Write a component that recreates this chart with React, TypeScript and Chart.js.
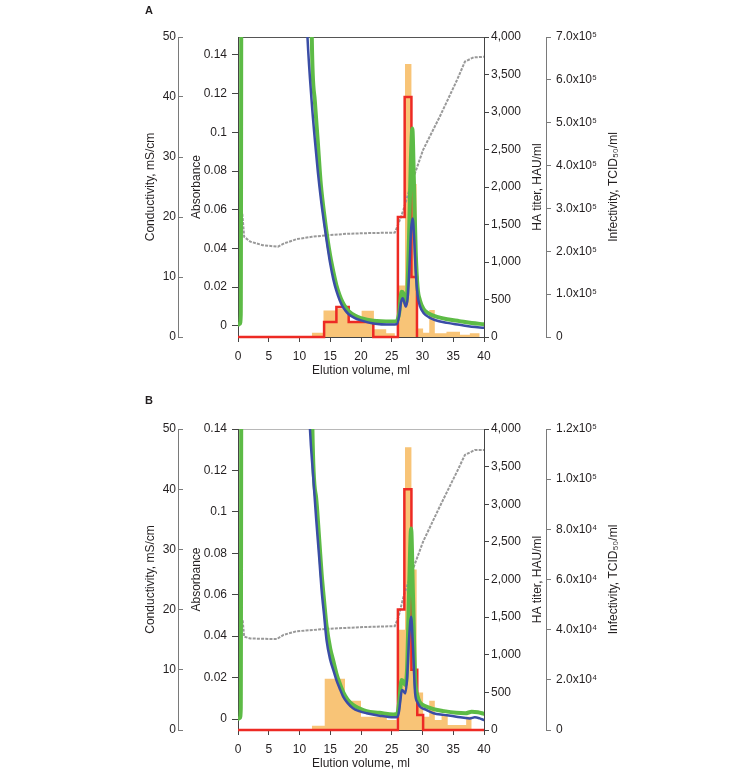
import React, { useEffect, useRef } from "react";
import { Chart, registerables } from "chart.js";

Chart.register(...registerables);

const FONT = '"Liberation Sans", Arial, Helvetica, sans-serif';
const TEXT = "#231f20";
const AXIS_DARK = "#444444";
const AXIS_LIGHT = "#7a7a7a";

// ---------- tick values ----------
const volumeTicks = [0, 5, 10, 15, 20, 25, 30, 35, 40];
const conductivityTicks = [0, 10, 20, 30, 40, 50];
const absorbanceTicks = [0, 0.02, 0.04, 0.06, 0.08, 0.1, 0.12, 0.14];
const haTicks = [0, 500, 1000, 1500, 2000, 2500, 3000, 3500, 4000];
const infectivityTicksA = [0, 1e5, 2e5, 3e5, 4e5, 5e5, 6e5, 7e5];
const infectivityTicksB = [0, 2e4, 4e4, 6e4, 8e4, 1e5, 1.2e5];

const absorbanceRangeA = [-0.0058, 0.1493];
const absorbanceRangeB = [-0.0053, 0.14];

// ---------- Panel A ----------
const condVolA = [0.5, 0.7, 1.0, 2.0, 4.0, 6.5, 7.5, 9.5, 12, 15, 17.7, 20.4, 25.5, 26.1, 26.9, 28, 30.1, 32.8, 35.6, 36.9, 38.3, 40];
const condA = [20.0, 20.6, 16.7, 15.9, 15.3, 15.05, 15.6, 16.3, 16.7, 17.0, 17.2, 17.3, 17.4, 18.9, 21.2, 25.0, 31.2, 36.7, 42.8, 45.9, 46.6, 46.7];

const haVolA = [0, 14, 16, 18, 22, 26, 27.1, 28.2, 29.1];
const haA = [0, 200, 400, 200, 0, 1600, 3200, 800, 0];

const infVolA = [12, 13.9, 16, 18, 20.1, 22.1, 24.1, 25.5, 26.1, 27.15, 28.2, 29.05, 30.1, 31.1, 32.0, 33.9, 36.1, 37.7, 39.3];
const infA = [1.0e4, 6.2e4, 6.6e4, 3.4e4, 6.1e4, 1.8e4, 9e3, 0, 1.2e5, 6.37e5, 3.57e5, 2.0e4, 1.0e4, 6.3e4, 9e3, 1.2e4, 5e3, 9e3, 0];

const greenVolA = [0, 0.3, 0.45, 0.6, 11.6, 12.0, 12.5, 13.0, 13.3, 13.5, 14.0, 14.5, 15.0, 15.5, 16.0, 16.5, 17.0, 17.5, 18.0, 19.0, 20.0, 22.0, 25.0, 25.8, 26.2, 26.6, 26.85, 27.2, 27.5, 27.8, 28.1, 28.35, 28.6, 28.9, 29.2, 29.6, 30.2, 31.0, 32.0, 34.0, 36.0, 38.0, 40.0];
const greenA = [0.0005, 0.001, 0.006, 0.3, 0.3, 0.149, 0.116, 0.094, 0.080, 0.072, 0.058, 0.046, 0.036, 0.028, 0.021, 0.016, 0.0122, 0.0095, 0.0076, 0.0053, 0.0040, 0.0026, 0.0022, 0.0024, 0.0065, 0.0176, 0.017, 0.0116, 0.016, 0.045, 0.085, 0.102, 0.075, 0.038, 0.02, 0.013, 0.0085, 0.0064, 0.005, 0.0034, 0.0024, 0.0014, 0.0008];

const blueVolA = [0, 10.8, 11.3, 12.0, 12.5, 13.0, 13.5, 14.0, 14.5, 15.0, 15.5, 16.0, 16.5, 17.0, 17.5, 18.0, 19.0, 20.0, 22.0, 25.0, 25.8, 26.2, 26.5, 26.8, 27.05, 27.3, 27.6, 27.9, 28.15, 28.4, 28.65, 28.9, 29.2, 29.6, 30.2, 31.0, 32.0, 34.0, 36.0, 38.0, 40.0];
const blueA = [0.3, 0.19, 0.149, 0.115, 0.096, 0.079, 0.065, 0.053, 0.042, 0.032, 0.024, 0.018, 0.0135, 0.010, 0.0077, 0.006, 0.004, 0.0028, 0.0012, 0.0006, 0.0008, 0.005, 0.012, 0.0142, 0.012, 0.0098, 0.015, 0.032, 0.05, 0.0555, 0.045, 0.028, 0.016, 0.010, 0.0065, 0.0045, 0.003, 0.0015, 0.0005, -0.0005, -0.001];

// ---------- Panel B ----------
const condVolB = [0.6, 0.75, 1.0, 2.0, 6.3, 7.4, 9.5, 14.4, 20.4, 25.5, 26.1, 26.9, 28, 30.1, 32.8, 35.6, 36.9, 38.5, 40];
const condB = [17.0, 18.3, 15.5, 15.2, 15.1, 15.8, 16.4, 16.8, 17.1, 17.25, 18.8, 22.1, 25.5, 31.3, 37.1, 42.9, 45.7, 46.5, 46.5];

const haVolB = [0, 26, 27.05, 28.2, 29.15, 30.1, 40];
const haB = [0, 1600, 3200, 800, 200, 0, 0];

const infVolB = [12, 14.1, 17.4, 20.0, 24.2, 25.8, 26.1, 27.15, 28.2, 29.05, 30.1, 31.1, 32.0, 33.1, 34.1, 37.1, 38.0];
const infB = [1.7e3, 2.04e4, 1.17e4, 5.3e3, 4e3, 0, 4.0e4, 1.127e5, 6.4e4, 1.5e4, 5.3e3, 1.17e4, 4e3, 6e3, 2e3, 5.3e3, 0];

const greenVolB = [0, 0.3, 0.45, 0.6, 11.8, 12.1, 12.7, 13.2, 13.6, 14.0, 14.4, 15.0, 15.5, 16.0, 16.5, 17.1, 17.8, 18.7, 19.7, 20.9, 23.0, 25.3, 25.9, 26.2, 26.6, 26.9, 27.2, 27.5, 27.8, 28.15, 28.45, 28.8, 29.2, 29.6, 30.5, 31.8, 33.5, 35.5, 37.0, 38.0, 39.0, 40];
const greenB = [0, 0.0005, 0.005, 0.3, 0.3, 0.14, 0.107, 0.087, 0.070, 0.057, 0.045, 0.034, 0.028, 0.022, 0.0175, 0.013, 0.0095, 0.0068, 0.0052, 0.0038, 0.003, 0.0022, 0.0026, 0.008, 0.0188, 0.018, 0.0164, 0.025, 0.06, 0.092, 0.06, 0.02, 0.011, 0.008, 0.0062, 0.0048, 0.0038, 0.003, 0.0028, 0.0035, 0.0033, 0.0025];

const blueVolB = [0, 11.2, 11.7, 12.2, 12.7, 13.2, 13.6, 14.0, 14.4, 15.0, 15.5, 16.0, 16.5, 17.1, 17.8, 18.7, 19.7, 20.9, 23.0, 25.3, 25.9, 26.2, 26.4, 26.65, 26.9, 27.2, 27.5, 27.8, 28.15, 28.45, 28.8, 29.2, 29.6, 30.5, 31.8, 33.5, 35.5, 37.7, 38.5, 39.3, 40];
const blueB = [0.3, 0.18, 0.14, 0.118, 0.097, 0.078, 0.062, 0.050, 0.038, 0.0285, 0.0236, 0.0188, 0.015, 0.0108, 0.0078, 0.0052, 0.0038, 0.0028, 0.0016, 0.0008, 0.001, 0.004, 0.009, 0.014, 0.0135, 0.0124, 0.02, 0.038, 0.0494, 0.035, 0.0124, 0.008, 0.0059, 0.0045, 0.0028, 0.002, 0.0011, 0.0003, 0.0008, 0.0003, -0.0005];

// ---------- helpers ----------
const SUP: Record<string, string> = { "0": "⁰", "1": "¹", "2": "²", "3": "³", "4": "⁴", "5": "⁵", "6": "⁶", "7": "⁷", "8": "⁸", "9": "⁹" };
function sci(v: number): string {
  if (v === 0) return "0";
  const e = Math.floor(Math.log10(v) + 1e-9);
  const m = v / Math.pow(10, e);
  return m.toFixed(1) + "x10" + String(e).split("").map((c) => SUP[c] || c).join("");
}
const pts = (xs: number[], ys: number[]) => xs.map((x, i) => ({ x, y: ys[i] }));
const setTicks = (values: number[]) => (scale: any) => {
  scale.ticks = values.map((v) => ({ value: v }));
};
const fixWidth = (w: number) => (scale: any) => {
  scale.width = w;
};
const fixHeight = (h: number) => (scale: any) => {
  scale.height = h;
};

function rightTitles(items: { scale: string; dx: number; text: string }[]) {
  return {
    id: "rightTitles",
    afterDraw(chart: any) {
      const ctx = chart.ctx;
      const area = chart.chartArea;
      for (const it of items) {
        const s = chart.scales[it.scale];
        if (!s) continue;
        ctx.save();
        ctx.translate(s.left + it.dx, (area.top + area.bottom) / 2);
        ctx.rotate(-Math.PI / 2);
        ctx.font = `12px ${FONT}`;
        ctx.fillStyle = TEXT;
        ctx.textAlign = "center";
        ctx.textBaseline = "middle";
        ctx.fillText(it.text, 0, 0);
        ctx.restore();
      }
    },
  };
}

type Panel = {
  condVol: number[]; cond: number[];
  haVol: number[]; ha: number[];
  infVol: number[]; inf: number[];
  greenVol: number[]; green: number[];
  blueVol: number[]; blue: number[];
  absRange: number[];
  infTicks: number[];
  topBorder: string;
  bottomPad: number;
};

const panelA: Panel = {
  condVol: condVolA, cond: condA, haVol: haVolA, ha: haA, infVol: infVolA, inf: infA,
  greenVol: greenVolA, green: greenA, blueVol: blueVolA, blue: blueA,
  absRange: absorbanceRangeA, infTicks: infectivityTicksA, topBorder: "#555555", bottomPad: 5,
};
const panelB: Panel = {
  condVol: condVolB, cond: condB, haVol: haVolB, ha: haB, infVol: infVolB, inf: infB,
  greenVol: greenVolB, green: greenB, blueVol: blueVolB, blue: blueB,
  absRange: absorbanceRangeB, infTicks: infectivityTicksB, topBorder: "#b8b8b8", bottomPad: 4,
};

function buildConfig(p: Panel): any {
  const font = { family: FONT, size: 12 };
  return {
    type: "line",
    data: {
      datasets: [
        {
          label: "Infectivity",
          data: pts(p.infVol, p.inf),
          yAxisID: "inf",
          stepped: true,
          fill: "origin",
          backgroundColor: "#F8C477",
          borderColor: "rgba(0,0,0,0)",
          borderWidth: 0,
          pointRadius: 0,
          order: 50,
        },
        {
          label: "Conductivity",
          data: pts(p.condVol, p.cond),
          yAxisID: "cond",
          borderColor: "#999999",
          borderWidth: 2,
          borderDash: [3, 1.2],
          pointRadius: 0,
          fill: false,
          order: 40,
        },
        {
          label: "HA titer",
          data: pts(p.haVol, p.ha),
          yAxisID: "ha",
          stepped: true,
          borderColor: "#ED2A24",
          borderWidth: 2.5,
          pointRadius: 0,
          fill: false,
          clip: { left: 0, top: 0, right: 3, bottom: 3 },
          order: 30,
        },
        {
          label: "A260",
          data: pts(p.greenVol, p.green),
          yAxisID: "abs",
          borderColor: "#5DBB46",
          borderWidth: 4,
          pointRadius: 0,
          fill: false,
          cubicInterpolationMode: "monotone",
          borderJoinStyle: "round",
          borderCapStyle: "round",
          order: 20,
        },
        {
          label: "A280",
          data: pts(p.blueVol, p.blue),
          yAxisID: "abs",
          borderColor: "#3A4DA6",
          borderWidth: 2.5,
          pointRadius: 0,
          fill: false,
          cubicInterpolationMode: "monotone",
          borderJoinStyle: "round",
          borderCapStyle: "round",
          order: 10,
        },
      ],
    },
    options: {
      animation: false,
      responsive: false,
      devicePixelRatio: 1,
      events: [],
      layout: { padding: { left: 136, right: 120, top: 21, bottom: p.bottomPad } },
      plugins: { legend: { display: false }, tooltip: { enabled: false } },
      scales: {
        x: {
          type: "linear",
          position: "bottom",
          min: 0,
          max: 40,
          afterBuildTicks: setTicks(volumeTicks),
          afterFit: fixHeight(41),
          grid: { drawOnChartArea: false, tickLength: 5, color: AXIS_DARK },
          border: { color: AXIS_DARK, width: 1 },
          ticks: { font, color: TEXT, padding: 7, maxRotation: 0, autoSkip: false },
          title: { display: true, text: "Elution volume, ml", font, color: TEXT, padding: { top: 0, bottom: 0 } },
        },
        xTop: {
          type: "linear",
          position: "top",
          min: 0,
          max: 40,
          afterFit: fixHeight(16),
          ticks: { display: false },
          grid: { drawOnChartArea: false, drawTicks: false },
          border: { color: p.topBorder, width: 1 },
        },
        cond: {
          type: "linear",
          position: "left",
          weight: 10,
          min: 0,
          max: 50,
          afterBuildTicks: setTicks(conductivityTicks),
          afterFit: fixWidth(42),
          grid: { drawOnChartArea: false, tickLength: -5, color: AXIS_LIGHT },
          border: { color: AXIS_LIGHT, width: 1 },
          ticks: { font, color: TEXT, padding: 7 },
          title: { display: true, text: "Conductivity, mS/cm", font, color: TEXT, padding: { top: 7, bottom: 0 } },
        },
        abs: {
          type: "linear",
          position: "left",
          weight: 5,
          min: p.absRange[0],
          max: p.absRange[1],
          afterBuildTicks: setTicks(absorbanceTicks),
          afterFit: fixWidth(60),
          grid: { drawOnChartArea: false, tickLength: 6, color: AXIS_DARK },
          border: { color: AXIS_DARK, width: 1 },
          ticks: {
            font,
            color: TEXT,
            padding: 5,
            callback: (v: any) => String(parseFloat(Number(v).toFixed(3))),
          },
          title: { display: true, text: "Absorbance", font, color: TEXT, padding: { top: 11, bottom: 0 } },
        },
        ha: {
          type: "linear",
          position: "right",
          weight: 0,
          min: 0,
          max: 4000,
          afterBuildTicks: setTicks(haTicks),
          afterFit: fixWidth(62),
          grid: { drawOnChartArea: false, tickLength: 5, color: AXIS_DARK },
          border: { color: AXIS_DARK, width: 1 },
          ticks: { font, color: TEXT, padding: 2, callback: (v: any) => Number(v).toLocaleString("en-US") },
        },
        inf: {
          type: "linear",
          position: "right",
          weight: 10,
          min: 0,
          max: p.infTicks[p.infTicks.length - 1],
          afterBuildTicks: setTicks(p.infTicks),
          afterFit: fixWidth(84),
          grid: { drawOnChartArea: false, tickLength: 5, color: AXIS_LIGHT },
          border: { color: AXIS_LIGHT, width: 1 },
          ticks: { font, color: TEXT, padding: 5, callback: (v: any) => sci(Number(v)) },
        },
      },
    },
    plugins: [
      rightTitles([
        { scale: "ha", dx: 54, text: "HA titer, HAU/ml" },
        { scale: "inf", dx: 68, text: "Infectivity, TCID₅₀/ml" },
      ]),
    ],
  };
}

function PanelChart({ panel, top }: { panel: Panel; top: number }) {
  const ref = useRef<HTMLCanvasElement>(null);
  useEffect(() => {
    if (!ref.current) return;
    const chart = new Chart(ref.current, buildConfig(panel));
    return () => chart.destroy();
  }, [panel]);
  return (
    <canvas
      ref={ref}
      width={750}
      height={383}
      style={{ position: "absolute", left: 0, top, width: 750, height: 383, display: "block" }}
    />
  );
}

export default function App() {
  useEffect(() => {
    document.body.style.margin = "0";
    document.body.style.overflow = "hidden";
  }, []);
  const label: React.CSSProperties = {
    position: "absolute",
    left: 145,
    fontFamily: FONT,
    fontWeight: "bold",
    fontSize: 11,
    color: TEXT,
    lineHeight: "13px",
  };
  return (
    <div style={{ position: "fixed", left: 0, top: 0, width: 750, height: 775, overflow: "hidden", background: "#fff" }}>
      <PanelChart panel={panelA} top={0} />
      <PanelChart panel={panelB} top={392} />
      <div style={{ ...label, top: 4 }}>A</div>
      <div style={{ ...label, top: 394 }}>B</div>
    </div>
  );
}
